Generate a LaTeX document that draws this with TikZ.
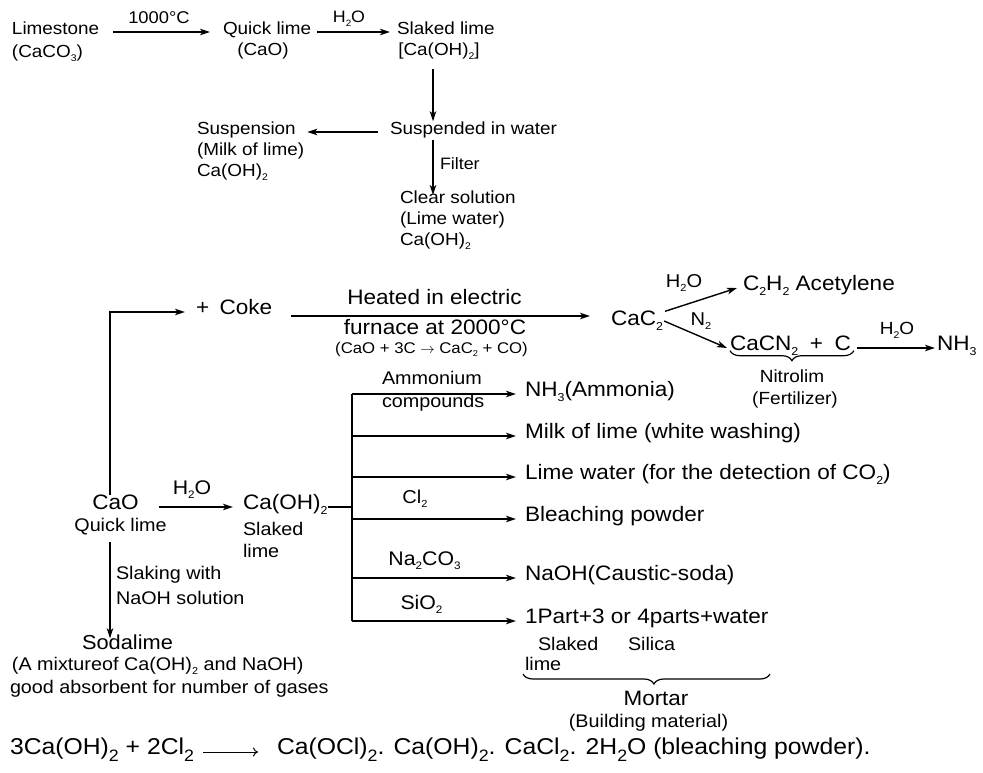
\documentclass[tikz,border=0pt]{standalone}
\usepackage{fontspec}
\setmainfont{Liberation Sans}[FakeStretch=1.08]
\usetikzlibrary{arrows.meta,decorations.pathreplacing,calc}
\newcommand\fs[1]{\fontsize{#1}{#1}\selectfont}
\newcommand\su[1]{\raisebox{-0.22em}{\scalebox{0.55}{#1}}}
\newcommand\sq[1]{\raisebox{-0.32em}{\scalebox{0.72}{#1}}}
\tikzset{
  t/.style={inner sep=0pt, outer sep=0pt, text height=0.72em, text depth=0.22em},
  T/.style={t, font=\fs{17.5}},
  M/.style={t, font=\fs{20.9}},
  S/.style={t, font=\fs{18.3}},
  arr/.style={line width=1.4pt, -{Stealth[length=10pt,width=6.5pt,inset=2.5pt]}},
  trunk/.style={line width=1.6pt},
  bracestyle/.style={line width=1.2pt, decorate, decoration={brace, mirror, amplitude=10pt}},
}
\begin{document}
\begin{tikzpicture}[x=1pt,y=-1pt]
\useasboundingbox (0,0) rectangle (983,773);
% ---------- top ----------
\node[T,anchor=west] (lst) at (12,32) {Limestone};
\node[T,anchor=west] (lstf) at (12,55) {(CaCO\su3)};
\node[T,anchor=west] (ql1) at (223,32) {Quick lime};
\node[T] (ql1f) at (263,53) {(CaO)};
\node[T,anchor=west] (sl1) at (397,32) {Slaked lime};
\node[T] (sl1f) at (439,53) {[Ca(OH)\su2]};
\node[T,anchor=west] (sw) at (390,132) {Suspended in water};
\node[T,anchor=west] (sp1) at (197,132) {Suspension};
\node[T,anchor=west] (sp2) at (197,153) {(Milk of lime)};
\node[T,anchor=west] (sp3) at (197,174) {Ca(OH)\su2};
\node[T,anchor=west] (cs1) at (400,201) {Clear solution};
\node[T,anchor=west] (cs2) at (400,222) {(Lime water)};
\node[T,anchor=west] (cs3) at (400,243) {Ca(OH)\su2};
\node[t,font=\fs{17}] (l1000) at (159,21) {1000°C};
\node[t,font=\fs{16.5}] (lh2o1) at (349,20) {H\su2O};
\node[t,font=\fs{16.5},anchor=west] (lfil) at (440,167) {Filter};
\coordinate (colA) at (433,0);
\draw[arr,shorten <=14pt,shorten >=13pt] (lst.east) -- (ql1.west);
\draw[arr,shorten <=6pt,shorten >=7pt] (ql1.east) -- (sl1.west);
\draw[arr,shorten <=11pt,shorten >=6pt] (colA |- sl1f.south) -- (colA |- sw.north);
\draw[arr,shorten <=12pt,shorten >=11.5pt] (sw.west) -- (sp1.east);
\draw[arr,shorten <=3pt,shorten >=1.3pt] (colA |- sw.south) -- (colA |- cs1.north);
% ---------- middle ----------
\node[M] (cao) at (115.5,507) {CaO};
\node[S] (caoq) at (120.5,529) {Quick lime};
\coordinate (colB) at (110,0);
\node[M,anchor=west] (coke) at (196,312) {+\hspace{0.5em}Coke};
\draw[arr,shorten <=7.8pt,shorten >=11pt] (colB |- cao.north) |- (coke.west);
\coordinate (rowH) at (0,316);
\node[M,anchor=west] (cac2) at (611,323) {CaC\su2};
\draw[arr,shorten <=19pt,shorten >=21pt] (coke.east |- rowH) -- (cac2.west |- rowH);
\node[M] (he1) at (434.5,302) {Heated in electric};
\node[M] (he2) at (435,332) {furnace at 2000°C};
\node[t,font=\fs{15.5}] (he3) at (431.5,351) {(CaO + 3C $\rightarrow$ CaC\su2 + CO)};
\node[M,anchor=west] (acet) at (743,288) {C\su2H\su2 Acetylene};
\draw[arr] ([shift={(2,-7)}]cac2.north east) -- ([xshift=-6pt]acet.west);
\node[t,font=\fs{18.6}] (lh2o2) at (684,285) {H\su2O};
\node[M,anchor=west] (cacn) at (730,348) {CaCN\su2\hspace{0.25em} + \hspace{0.25em}C};
\draw[arr] ([shift={(1,-2)}]cac2.east) -- ([xshift=-3pt]cacn.west);
\node[t,font=\fs{18.6}] (ln2) at (701,323) {N\su2};
\draw[bracestyle] ([shift={(0,-2)}]cacn.south west) -- ([shift={(3,-2)}]cacn.south east);
\node[t,font=\fs{17.6}] (nit) at (792,380) {Nitrolim};
\node[t,font=\fs{17.6}] (fer) at (795,402) {(Fertilizer)};
\node[M,anchor=west] (nh3) at (937,348) {NH\su3};
\draw[arr,shorten >=2pt] ([xshift=6pt]cacn.east) -- (nh3.west);
\node[t,font=\fs{17.6}] (lh2o3) at (897,332) {H\su2O};
% ---------- branches ----------
\node[M,anchor=west] (cah) at (243,507) {Ca(OH)\su2};
\node[S,anchor=west] (cahs1) at (243,533) {Slaked};
\node[S,anchor=west] (cahs2) at (243,555) {lime};
\draw[arr,shorten <=20pt,shorten >=10pt] (cao.east) -- (cah.west);
\node[t,font=\fs{19.7}] (lh2o4) at (192,492) {H\su2O};
\coordinate (tTop) at (352,394);
\coordinate (tBot) at (352,621);
\draw[trunk] (tTop) -- (tBot);
\draw[trunk] (cah.east) -- (cah.east -| tTop);
\node[M,anchor=west] (o1) at (525,394) {NH\su3(Ammonia)};
\node[M,anchor=west] (o2) at (525,436) {Milk of lime (white washing)};
\node[M,anchor=west] (o3) at (525,477) {Lime water (for the detection of CO\su2)};
\node[M,anchor=west] (o4) at (525,519) {Bleaching powder};
\node[M,anchor=west] (o5) at (525,578) {NaOH(Caustic-soda)};
\node[M,anchor=west] (o6) at (525,621) {1Part+3 or 4parts+water};
\foreach \n in {o1,o2,o3,o4,o5,o6}
  \draw[arr,shorten >=9pt] (tTop |- \n.west) -- (\n.west);
\node[S,anchor=west] (am1) at (382,382) {Ammonium};
\node[S,anchor=west] (am2) at (382,405) {compounds};
\node[t,font=\fs{18.6}] (lcl) at (415,501) {Cl\su2};
\node[t,font=\fs{19.7}] (lna) at (424.5,563) {Na\su2CO\su3};
\node[t,font=\fs{19.7}] (lsi) at (421.5,607) {SiO\su2};
% ---------- mortar ----------
\node[S,anchor=west] (mk1) at (538,648) {Slaked};
\node[S,anchor=west] (mk2) at (628,648) {Silica};
\node[S,anchor=west] (mk3) at (525,668) {lime};
\coordinate (bl) at (523,674);
\coordinate (br) at (770,674);
\draw[bracestyle,decoration={aspect=0.53}] (bl) -- (br);
\node[t,font=\fs{20.8}] (mort) at (656,703) {Mortar};
\node[S] (bm) at (648.5,725) {(Building material)};
% ---------- sodalime ----------
\node[t,font=\fs{20.2}] (soda) at (127.5,647) {Sodalime};
\draw[arr,shorten <=8pt,shorten >=4pt] (colB |- caoq.south) -- (colB |- soda.north);
\node[S,anchor=west] (sk1) at (116,577) {Slaking with};
\node[S,anchor=west] (sk2) at (116,602) {NaOH solution};
\node[S,anchor=west] (mx1) at (12,668) {(A mixtureof Ca(OH)\su2 and NaOH)};
\node[S,anchor=west] (mx2) at (10,691) {good absorbent for number of gases};
% ---------- equation ----------
\node[t,font=\fs{22.9},anchor=west] (eqL) at (10,752) {3Ca(OH)\sq2 + 2Cl\sq2};
\node[t,font=\fs{22.9},anchor=west] (eqR) at (277,752) {Ca(OCl)\sq2. Ca(OH)\sq2. CaCl\sq2. 2H\sq2O (bleaching powder).};
\draw[line width=1pt,-{To[length=5pt,width=9pt]},shorten <=9pt,shorten >=19pt] (eqL.east) -- (eqR.west);
\end{tikzpicture}
\end{document}
